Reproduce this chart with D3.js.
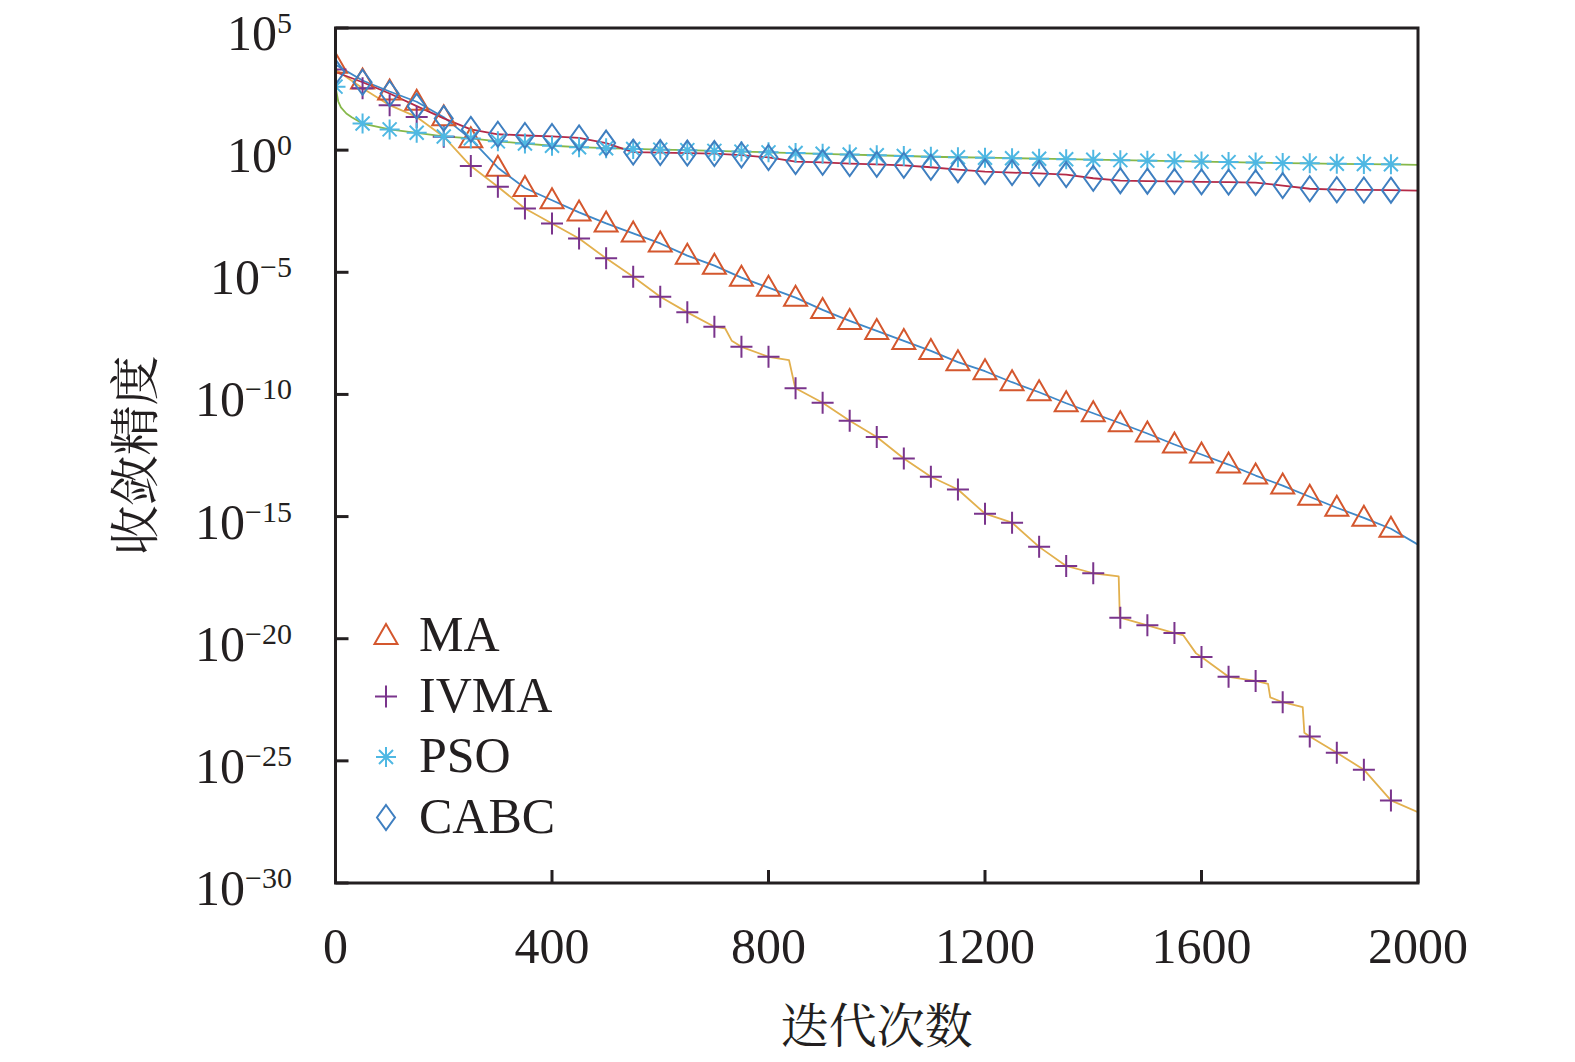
<!DOCTYPE html>
<html>
<head>
<meta charset="utf-8">
<script src="https://cdn.jsdelivr.net/npm/d3@7"></script>
<style>
  html, body { margin: 0; padding: 0; background: #fff; }
  svg { display: block; }
</style>
</head>
<body>
<svg id="chart"></svg>
<script>
// Iterations where the curves are sampled (markers sit on these)
const iterations = [0, 50, 100, 150, 200, 250, 300, 350, 400, 450, 500, 550, 600, 650, 700,
    750, 800, 850, 900, 950, 1000, 1050, 1100, 1150, 1200, 1250, 1300, 1350, 1400, 1450,
    1500, 1550, 1600, 1650, 1700, 1750, 1800, 1850, 1900, 1950, 2000];

// Convergence accuracy, stored as log10 exponents (value = 10^e)
const maExp = [3.5, 2.85, 2.4, 1.98, 1.35, 0.45, -0.72, -1.55, -2.05, -2.55, -3.0, -3.41,
    -3.82, -4.32, -4.73, -5.22, -5.63, -6.04, -6.54, -6.99, -7.4, -7.81, -8.22, -8.68, -9.05,
    -9.5, -9.91, -10.36, -10.77, -11.18, -11.6, -12.05, -12.46, -12.87, -13.32, -13.73,
    -14.19, -14.64, -15.05, -15.5, -16.15];
const ivmaExp = [3.3, 2.53, 1.84, 1.36, 0.55, -0.65, -1.5, -2.39, -3.0, -3.62, -4.43, -5.18,
    -6.0, -6.64, -7.23, -8.05, -8.46, -9.75, -10.34, -11.08, -11.74, -12.62, -13.37, -13.89,
    -14.88, -15.25, -16.24, -17.02, -17.32, -19.14, -19.45, -19.77, -20.75, -21.56, -21.73,
    -22.6, -24.0, -24.67, -25.36, -26.62, -27.1];
const psoExp = [2.6, 1.09, 0.85, 0.71, 0.56, 0.48, 0.36, 0.27, 0.18, 0.12, 0.08, 0.05, 0.02,
    0.0, -0.03, -0.06, -0.09, -0.12, -0.15, -0.18, -0.21, -0.24, -0.27, -0.29, -0.31, -0.33,
    -0.35, -0.37, -0.39, -0.41, -0.43, -0.45, -0.47, -0.49, -0.51, -0.53, -0.54, -0.56,
    -0.57, -0.58, -0.6];
const cabcExp = [3.2, 2.78, 2.32, 1.8, 1.3, 0.85, 0.65, 0.6, 0.56, 0.5, 0.29, -0.08, -0.1,
    -0.12, -0.14, -0.2, -0.3, -0.47, -0.5, -0.55, -0.58, -0.62, -0.7, -0.8, -0.88, -0.92,
    -0.95, -1.0, -1.15, -1.25, -1.27, -1.28, -1.3, -1.31, -1.33, -1.45, -1.58, -1.62, -1.63,
    -1.64, -1.66];

// Extra line vertices between markers (stair steps of IVMA, early drop of PSO)
const ivmaStepPoints = [[720, -7.3], [732, -7.8], [838, -8.6], [848, -9.6],
    [1447, -17.45], [1449, -19.05], [1566, -19.85], [1590, -20.6], [1723, -21.85],
    [1727, -22.4], [1787, -22.8], [1790, -23.85]];
const psoStartPoints = [[5, 2.0], [10, 1.75], [20, 1.5], [30, 1.35]];

const seriesNames = ['MA', 'IVMA', 'PSO', 'CABC'];
const xTicks = [0, 400, 800, 1200, 1600, 2000];
const yTickExps = [5, 0, -5, -10, -15, -20, -25, -30];

// Page and plot box
const svgWidth = 1575;
const svgHeight = 1062;
const plot = { left: 335.5, right: 1418, top: 28, bottom: 883 };

const svg = d3.select('#chart')
    .attr('width', svgWidth)
    .attr('height', svgHeight);

const xScale = d3.scaleLinear()
    .domain([0, 2000])
    .range([plot.left, plot.right]);

const yScale = d3.scaleLog()
    .domain([1e-30, 1e5])
    .range([plot.bottom, plot.top]);

const serif = '"Times New Roman", "Liberation Serif", serif';
const cjk = '"Noto Serif CJK SC", "Noto Sans CJK SC", sans-serif';

// Marker shapes
const markerPaths = {
    triangle: 'M0,-12L11.5,8L-11.5,8Z',
    plus: 'M-11,0H11M0,-11V11',
    star: 'M-10,0H10M0,-10V10M-7,-7L7,7M-7,7L7,-7',
    diamond: 'M0,-12.5L9,0L0,12.5L-9,0Z'
};

const series = [
    { name: seriesNames[0], exps: maExp, extra: [], line: '#3f88c8', mark: '#d4572e', shape: 'triangle' },
    { name: seriesNames[1], exps: ivmaExp, extra: ivmaStepPoints, line: '#e2b04e', mark: '#7a348c', shape: 'plus' },
    { name: seriesNames[2], exps: psoExp, extra: psoStartPoints, line: '#86b84a', mark: '#4fb8e3', shape: 'star' },
    { name: seriesNames[3], exps: cabcExp, extra: [], line: '#b42a47', mark: '#3f7fc0', shape: 'diamond' }
];

// Clip for the data
svg.append('clipPath')
    .attr('id', 'plotClip')
    .append('rect')
    .attr('x', plot.left)
    .attr('y', plot.top)
    .attr('width', plot.right - plot.left)
    .attr('height', plot.bottom - plot.top);

const dataLayer = svg.append('g').attr('clip-path', 'url(#plotClip)');

const line = d3.line()
    .x(d => xScale(d[0]))
    .y(d => yScale(Math.pow(10, d[1])));

// Draw lines
series.forEach(s => {
    const pts = iterations.map((it, i) => [it, s.exps[i]])
        .concat(s.extra)
        .sort((a, b) => a[0] - b[0]);
    dataLayer.append('path')
        .datum(pts)
        .attr('fill', 'none')
        .attr('stroke', s.line)
        .attr('stroke-width', 1.8)
        .attr('stroke-linejoin', 'round')
        .attr('d', line);
});

// Draw markers (every sampled iteration except the last)
series.forEach(s => {
    const pts = iterations.slice(0, -1).map((it, i) => [it, s.exps[i]]);
    dataLayer.selectAll('.m-' + s.shape)
        .data(pts)
        .enter()
        .append('path')
        .attr('class', 'm-' + s.shape)
        .attr('transform', d => `translate(${xScale(d[0])},${yScale(Math.pow(10, d[1]))})`)
        .attr('d', markerPaths[s.shape])
        .attr('fill', 'none')
        .attr('stroke', s.mark)
        .attr('stroke-width', 2);
});

// Axes box
svg.append('rect')
    .attr('x', plot.left)
    .attr('y', plot.top)
    .attr('width', plot.right - plot.left)
    .attr('height', plot.bottom - plot.top)
    .attr('fill', 'none')
    .attr('stroke', '#231f20')
    .attr('stroke-width', 3);

// X ticks and labels
svg.selectAll('.x-tick')
    .data(xTicks)
    .enter()
    .append('line')
    .attr('class', 'x-tick')
    .attr('x1', d => xScale(d))
    .attr('x2', d => xScale(d))
    .attr('y1', plot.bottom)
    .attr('y2', plot.bottom - 13)
    .attr('stroke', '#231f20')
    .attr('stroke-width', 3);

svg.selectAll('.x-label')
    .data(xTicks)
    .enter()
    .append('text')
    .attr('class', 'x-label')
    .attr('x', d => xScale(d))
    .attr('y', 963)
    .attr('text-anchor', 'middle')
    .attr('font-family', serif)
    .attr('font-size', 50)
    .attr('fill', '#231f20')
    .text(d => d);

// Y ticks and labels (10 with superscript exponent)
svg.selectAll('.y-tick')
    .data(yTickExps)
    .enter()
    .append('line')
    .attr('class', 'y-tick')
    .attr('x1', plot.left)
    .attr('x2', plot.left + 13)
    .attr('y1', d => yScale(Math.pow(10, d)))
    .attr('y2', d => yScale(Math.pow(10, d)))
    .attr('stroke', '#231f20')
    .attr('stroke-width', 3);

const yLabels = svg.selectAll('.y-label')
    .data(yTickExps)
    .enter()
    .append('text')
    .attr('class', 'y-label')
    .attr('x', 292)
    .attr('y', d => yScale(Math.pow(10, d)) + 22)
    .attr('text-anchor', 'end')
    .attr('font-family', serif)
    .attr('font-size', 50)
    .attr('fill', '#231f20');

yLabels.append('tspan').text('10');
yLabels.append('tspan')
    .attr('dy', -17)
    .attr('font-size', 30)
    .text(d => d < 0 ? '\u2212' + (-d) : String(d));

// Axis titles
svg.append('text')
    .attr('x', (plot.left + plot.right) / 2)
    .attr('y', 1022)
    .attr('text-anchor', 'middle')
    .attr('dominant-baseline', 'central')
    .attr('font-family', cjk)
    .attr('font-size', 48)
    .attr('fill', '#231f20')
    .text('迭代次数');

svg.append('text')
    .attr('transform', `translate(131, ${(plot.top + plot.bottom) / 2}) rotate(-90)`)
    .attr('text-anchor', 'middle')
    .attr('dominant-baseline', 'central')
    .attr('font-family', cjk)
    .attr('font-size', 50)
    .attr('fill', '#231f20')
    .text('收敛精度');

// Legend (markers only)
const legend = svg.append('g');
series.forEach((s, i) => {
    const cy = 636 + i * 60.5;
    legend.append('path')
        .attr('transform', `translate(386, ${cy})`)
        .attr('d', markerPaths[s.shape])
        .attr('fill', 'none')
        .attr('stroke', s.mark)
        .attr('stroke-width', 2);
    legend.append('text')
        .attr('x', 419)
        .attr('y', cy + 15)
        .attr('font-family', serif)
        .attr('font-size', 50)
        .attr('fill', '#231f20')
        .text(s.name);
});
</script>
</body>
</html>
